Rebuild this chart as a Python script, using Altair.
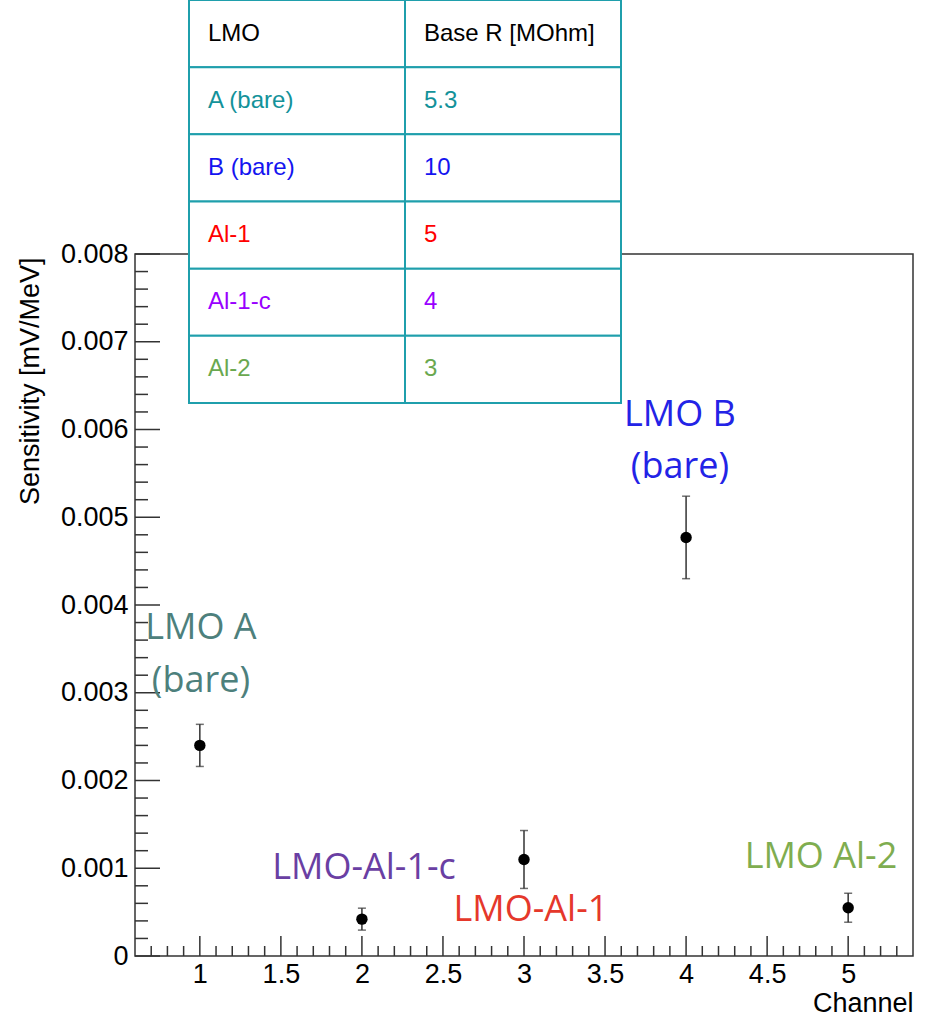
import altair as alt
import pandas as pd

# ---- data ----
channels = [1, 2, 3, 4, 5]
sensitivity = [0.00240, 0.00042, 0.00110, 0.00477, 0.00055]
sens_err = [0.00024, 0.000125, 0.00033, 0.00047, 0.000165]

x_major = [1, 1.5, 2, 2.5, 3, 3.5, 4, 4.5, 5]
x_minor = [round(0.7 + 0.1 * i, 1) for i in range(47) if round((0.7 + 0.1 * i) * 2, 6) % 1 != 0]
y_major = [round(0.001 * i, 4) for i in range(9)]
y_minor = [round(0.0002 * i, 4) for i in range(41) if i % 5 != 0]

annot_text = ["LMO A", "(bare)", "LMO B", "(bare)", "LMO-Al-1-c", "LMO-Al-1", "LMO Al-2"]
annot_x = [1.007, 1.007, 3.962, 3.962, 2.013, 3.043, 4.832]
annot_y = [0.00374, 0.00313, 0.006165, 0.005573, 0.001003, 0.000524, 0.001128]
annot_color = ["#4d807c", "#4d807c", "#2323e6", "#2323e6", "#6a3fa3", "#e5382b", "#7fad50"]

table_col1 = ["LMO", "A (bare)", "B (bare)", "Al-1", "Al-1-c", "Al-2"]
table_col2 = ["Base R [MOhm]", "5.3", "10", "5", "4", "3"]
table_colors = ["#000000", "#13929a", "#1414f0", "#ff0000", "#9900ff", "#6aa84f"]

# ---- frames ----
pts = pd.DataFrame({"channel": channels, "sens": sensitivity, "err": sens_err})
pts["lo"] = pts["sens"] - pts["err"]
pts["hi"] = pts["sens"] + pts["err"]

ann = pd.DataFrame({"text": annot_text, "x": annot_x, "y": annot_y, "color": annot_color})

cells = []
for r in range(len(table_col1)):
    cells.append({"row": r, "col": 0, "text": table_col1[r], "color": table_colors[r]})
    cells.append({"row": r, "col": 1, "text": table_col2[r], "color": table_colors[r]})
cells = pd.DataFrame(cells)

W, H = 778, 702
xscale = alt.Scale(domain=[0.6, 5.4], nice=False, zero=False)
yscale = alt.Scale(domain=[0, 0.008], nice=False, zero=False)

xaxis = alt.Axis(values=x_major, format="~g", ticks=False, domain=False, grid=False,
                 labelFont="Liberation Sans", labelFontSize=27, labelColor="black",
                 labelPadding=5, title="Channel", titleFont="Liberation Sans",
                 titleFontSize=27, titleFontWeight="normal", titleColor="black",
                 titleAnchor="end", titleAlign="right", titleX=W, titleY=47,
                 titleBaseline="middle")
yaxis = alt.Axis(values=y_major, ticks=False, domain=False, grid=False,
                 labelExpr="datum.value == 0 ? '0' : format(datum.value, '.3f')",
                 labelFont="Liberation Sans", labelFontSize=27, labelColor="black",
                 labelPadding=7, title="Sensitivity [mV/MeV]", titleFont="Liberation Sans",
                 titleFontSize=27, titleFontWeight="normal", titleColor="black",
                 titleAngle=-90, titleAlign="right", titleBaseline="middle",
                 titleX=-105, titleY=3)

X = lambda f: alt.X(f, type="quantitative", scale=xscale, axis=xaxis)
Y = lambda f: alt.Y(f, type="quantitative", scale=yscale, axis=yaxis)

tick_color = "#333333"

ymaj = alt.Chart(pd.DataFrame({"v": y_major})).mark_rule(color=tick_color, strokeWidth=1.5).encode(
    y=Y("v"), x=alt.value(0), x2=alt.value(25))
ymin = alt.Chart(pd.DataFrame({"v": y_minor})).mark_rule(color=tick_color, strokeWidth=1.5).encode(
    y=Y("v"), x=alt.value(0), x2=alt.value(13))
xmaj = alt.Chart(pd.DataFrame({"v": x_major})).mark_rule(color=tick_color, strokeWidth=1.5).encode(
    x=X("v"), y=alt.value(H), y2=alt.value(H - 20))
xmin = alt.Chart(pd.DataFrame({"v": x_minor})).mark_rule(color=tick_color, strokeWidth=1.5).encode(
    x=X("v"), y=alt.value(H), y2=alt.value(H - 10))

base = alt.Chart(pts)
errbar = base.mark_rule(color=tick_color, strokeWidth=1.5).encode(x=X("channel"), y=Y("lo"), y2="hi")
cap_lo = base.mark_tick(color=tick_color, orient="horizontal", size=8, thickness=1.5).encode(x=X("channel"), y=Y("lo"))
cap_hi = base.mark_tick(color=tick_color, orient="horizontal", size=8, thickness=1.5).encode(x=X("channel"), y=Y("hi"))
dots = base.mark_circle(color="black", opacity=1, size=130).encode(x=X("channel"), y=Y("sens"))

annots = alt.Chart(ann).mark_text(font="Open Sans", fontSize=36, fontWeight=500, align="center", baseline="middle").encode(
    x=X("x"), y=Y("y"), text="text:N", color=alt.Color("color:N", scale=None))

main = alt.layer(ymaj, ymin, xmaj, xmin, errbar, cap_lo, cap_hi, dots, annots)

tx = alt.Scale(domain=[0, 2], range=[54, 486], nice=False, zero=False)
ty = alt.Scale(domain=[0, 6], range=[-254, 149], nice=False, zero=False)
tbase = alt.Chart(cells).transform_calculate(col2="datum.col + 1", row2="datum.row + 1", rowm="datum.row + 0.5")
trect = tbase.mark_rect(fill="white", stroke="#1f9fac", strokeWidth=2).encode(
    x=alt.X("col:Q", scale=tx, axis=None), x2="col2:Q",
    y=alt.Y("row:Q", scale=ty, axis=None), y2="row2:Q")
ttext = tbase.mark_text(font="Liberation Sans", fontSize=24, align="left", baseline="middle", dx=19).encode(
    x=alt.X("col:Q", scale=tx, axis=None),
    y=alt.Y("rowm:Q", scale=ty, axis=None),
    text="text:N", color=alt.Color("color:N", scale=None))
table = alt.layer(trect, ttext)

chart = alt.layer(main, table).resolve_scale(x="independent", y="independent").properties(
    width=W, height=H,
    autosize=alt.AutoSizeParams(type="none"),
    padding={"left": 135, "top": 254, "right": 12, "bottom": 61},
    background="white",
).configure_view(stroke="#333333", strokeWidth=1.5)

chart.save("out.html", embed_options={"renderer": "svg", "actions": False})
